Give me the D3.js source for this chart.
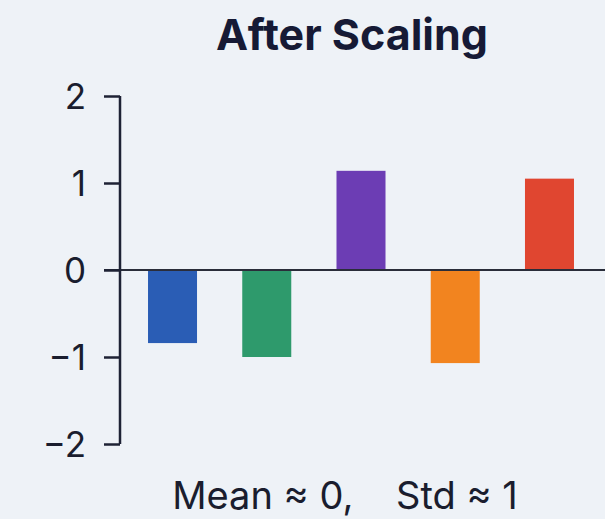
<!DOCTYPE html>
<html>
<head>
<meta charset="utf-8">
<script src="https://cdn.jsdelivr.net/npm/d3@7"></script>
<style>
  html, body { margin: 0; padding: 0; background: #eef2f7; }
  svg { display: block; }
  text { font-family: Inter, "Noto Sans", sans-serif; }
</style>
</head>
<body>
<svg id="chart" width="605" height="519"></svg>
<script>
const categories = ["A", "B", "C", "D", "E"];
const values = [-0.84, -1.0, 1.14, -1.07, 1.05];
const colors = ["#2a5db5", "#2e9a6c", "#6c3db4", "#f2841f", "#e04630"];
const yTicks = [-2, -1, 0, 1, 2];
const title = "After Scaling";
const footnote = "Mean \u2248 0,    Std \u2248 1";

const W = 605, H = 519;
const svg = d3.select("#chart");

svg.append("rect").attr("width", W).attr("height", H).attr("fill", "#eef2f7");

const y = d3.scaleLinear().domain([-2, 2]).range([444, 96]);
const x = d3.scaleBand().domain(categories).range([125.4, 596.6])
  .paddingInner(0.48).paddingOuter(0.24);

// bars
svg.append("g").selectAll("rect").data(values).join("rect")
  .attr("x", (d, i) => x(categories[i]))
  .attr("width", x.bandwidth())
  .attr("y", d => Math.min(y(d), y(0)))
  .attr("height", d => Math.abs(y(d) - y(0)))
  .attr("fill", (d, i) => colors[i]);

// zero line
svg.append("line")
  .attr("x1", 104).attr("x2", W)
  .attr("y1", y(0)).attr("y2", y(0))
  .attr("stroke", "#2a2d3a").attr("stroke-width", 2);

// y axis
const axis = d3.axisLeft(y).tickValues(yTicks).tickSize(16).tickPadding(18)
  .tickFormat(d => d < 0 ? "\u2212" + Math.abs(d) : String(d));
const gy = svg.append("g").attr("transform", "translate(120,0)").call(axis);
gy.select(".domain").attr("stroke", "#1e2235").attr("stroke-width", 2.5)
  .attr("d", `M0,${y(2)}V${y(-2)}`);
gy.selectAll(".tick line").attr("stroke", "#1e2235").attr("stroke-width", 2.5);
gy.selectAll(".tick text").attr("fill", "#1a1d2e")
  .style("font-size", "35px").attr("dy", "0.36em");

// title
svg.append("text").attr("x", 352).attr("y", 50)
  .attr("text-anchor", "middle").attr("fill", "#161a35")
  .style("font-size", "43px").style("font-weight", "700")
  .text(title);

// footnote
svg.append("text").attr("x", 345).attr("y", 509)
  .attr("text-anchor", "middle").attr("fill", "#1a1d2e")
  .style("font-size", "38px").style("white-space", "pre")
  .text(footnote);
</script>
</body>
</html>
